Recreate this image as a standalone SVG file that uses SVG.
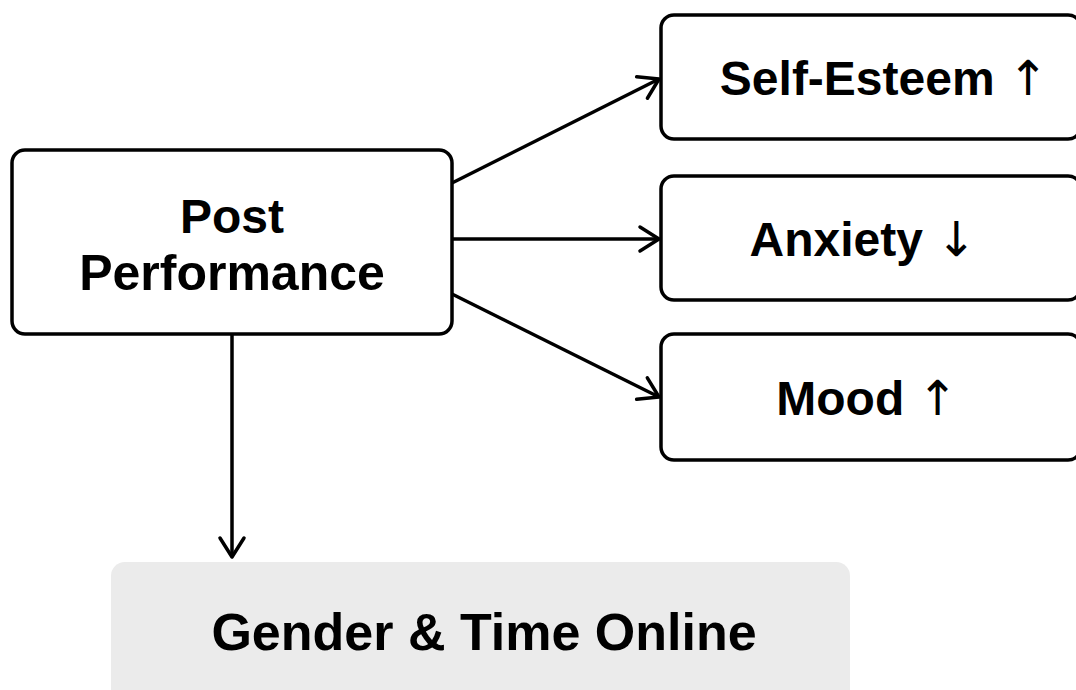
<svg xmlns="http://www.w3.org/2000/svg" width="1076" height="690" viewBox="0 0 1076 690">
<defs>
<marker id="arr" markerWidth="12" markerHeight="12" refX="10" refY="6" orient="auto" markerUnits="userSpaceOnUse" viewBox="0 0 12 12" overflow="visible">
<path d="M-9,-6 L10,6 L-9,18" fill="none" stroke="#000" stroke-width="3.5" stroke-linecap="round" stroke-linejoin="round"/>
</marker>
<style>
.box{fill:#fff;stroke:#000;stroke-width:3.5}
.gray{fill:#ebebeb;stroke:none}
.t{font-family:"Liberation Sans",Arial,sans-serif;font-weight:bold;fill:#000;text-anchor:middle}
.a{font-family:"DejaVu Sans",sans-serif;font-weight:normal}
.c{stroke:#000;stroke-width:3.5;fill:none;marker-end:url(#arr)}
</style>
</defs>
<rect width="1076" height="690" fill="#fff"/>
<g id="connectors">
<line class="c" x1="452" y1="183" x2="659" y2="79"/>
<line class="c" x1="452" y1="239" x2="659" y2="239"/>
<line class="c" x1="452" y1="294" x2="659" y2="397"/>
<line class="c" x1="232" y1="335" x2="232" y2="557"/>
</g>
<g id="post-performance">
<rect class="box" x="12" y="150" width="440" height="184" rx="13"/>
<text class="t" x="232" y="233" font-size="48">Post</text>
<text class="t" x="232" y="290" font-size="50">Performance</text>
</g>
<g id="self-esteem">
<rect class="box" x="661" y="15" width="420" height="124" rx="13"/>
<text class="t" x="884" y="95" font-size="48">Self-Esteem <tspan class="a">↑</tspan></text>
</g>
<g id="anxiety">
<rect class="box" x="661" y="176" width="420" height="124" rx="13"/>
<text class="t" x="863" y="256" font-size="48">Anxiety <tspan class="a">↓</tspan></text>
</g>
<g id="mood">
<rect class="box" x="661" y="334" width="420" height="126" rx="13"/>
<text class="t" x="867" y="415" font-size="48">Mood <tspan class="a">↑</tspan></text>
</g>
<g id="gender-time-online">
<rect class="gray" x="111" y="562" width="739" height="150" rx="14"/>
<text class="t" x="484" y="650" font-size="52">Gender &amp; Time Online</text>
</g>
</svg>
